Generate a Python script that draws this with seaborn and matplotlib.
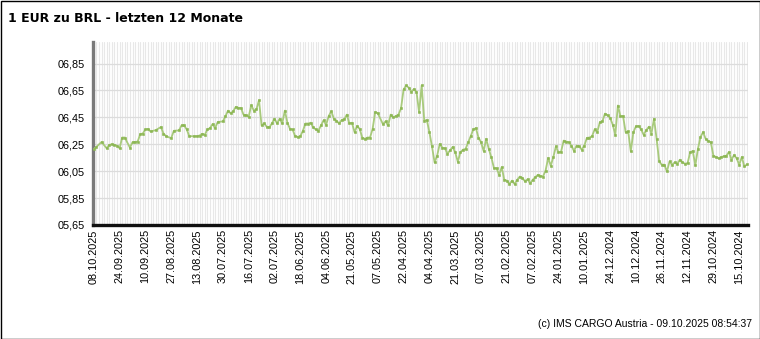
import matplotlib
matplotlib.use("Agg")
import matplotlib.pyplot as plt
import seaborn as sns
import pandas as pd
import numpy as np
from matplotlib.patches import Rectangle

# ---- data (business-day slot, 0 = 08.10.2025, going back in time) ----
slots = [0, 1, 3, 5, 6, 7, 8, 9, 10, 11, 12, 14, 15, 16, 17, 18, 19, 20, 21, 22,
         24, 26, 27, 28, 30, 31, 33, 34, 35, 36, 37, 39, 40, 41, 42, 43, 44, 45, 46, 47,
         48, 50, 51, 52, 53, 54, 55, 56, 57, 58, 59, 60, 61, 62, 63, 64, 65, 66, 67, 68,
         69, 70, 71, 72, 73, 74, 75, 76, 77, 78, 79, 80, 81, 82, 83, 84, 85, 86, 87, 88,
         89, 90, 91, 92, 93, 94, 95, 96, 97, 98, 99, 100, 101, 102, 103, 104, 105, 106, 107, 108,
         109, 110, 112, 113, 114, 115, 116, 117, 118, 119, 120, 121, 122, 123, 124, 125, 126, 127, 128, 129,
         130, 131, 132, 133, 134, 135, 136, 137, 138, 139, 140, 141, 142, 143, 144, 145, 146, 147, 148, 149,
         150, 151, 152, 153, 154, 155, 156, 157, 158, 159, 160, 161, 162, 163, 164, 165, 166, 167, 168, 169,
         170, 171, 172, 173, 174, 175, 176, 177, 178, 179, 180, 181, 182, 183, 184, 185, 186, 187, 188, 189,
         190, 191, 192, 193, 194, 195, 196, 197, 198, 199, 200, 201, 202, 203, 204, 205, 206, 207, 208, 209,
         210, 211, 212, 213, 214, 215, 216, 217, 218, 219, 220, 221, 222, 223, 224, 225, 226, 227, 228, 229,
         230, 231, 232, 233, 234, 235, 236, 237, 238, 239, 240, 241, 242, 243, 244, 245, 246, 247, 248, 249,
         250, 251, 252, 253]
rates = [6.215, 6.23, 6.267, 6.22, 6.245, 6.25, 6.245, 6.24, 6.22, 6.30, 6.30, 6.225, 6.265, 6.267, 6.27, 6.325, 6.33, 6.36, 6.364, 6.345,
         6.355, 6.378, 6.33, 6.31, 6.295, 6.35, 6.353, 6.39, 6.39, 6.36, 6.31, 6.31, 6.31, 6.315, 6.328, 6.32, 6.36, 6.37, 6.40, 6.37,
         6.415, 6.42, 6.458, 6.50, 6.48, 6.495, 6.528, 6.52, 6.52, 6.47, 6.465, 6.455, 6.54, 6.50, 6.51, 6.577, 6.39, 6.405, 6.38, 6.375,
         6.405, 6.44, 6.405, 6.44, 6.405, 6.50, 6.41, 6.364, 6.36, 6.31, 6.305, 6.31, 6.35, 6.404, 6.404, 6.41, 6.375, 6.36, 6.35, 6.39,
         6.428, 6.395, 6.46, 6.495, 6.44, 6.425, 6.405, 6.43, 6.435, 6.47, 6.405, 6.41, 6.34, 6.385, 6.364, 6.30, 6.29, 6.30, 6.30, 6.364,
         6.49, 6.48, 6.40, 6.42, 6.39, 6.47, 6.45, 6.46, 6.47, 6.516, 6.657, 6.687, 6.67, 6.64, 6.66, 6.64, 6.488, 6.687, 6.426, 6.43,
         6.34, 6.234, 6.115, 6.165, 6.252, 6.225, 6.22, 6.18, 6.205, 6.23, 6.19, 6.12, 6.19, 6.21, 6.215, 6.264, 6.31, 6.36, 6.37, 6.30,
         6.265, 6.20, 6.29, 6.215, 6.152, 6.073, 6.073, 6.023, 6.08, 5.986, 5.98, 5.954, 5.98, 5.954, 5.986, 6.01, 6.0, 5.975, 5.99, 5.96,
         5.986, 6.005, 6.023, 6.015, 6.01, 6.055, 6.148, 6.09, 6.155, 6.234, 6.19, 6.195, 6.277, 6.27, 6.265, 6.24, 6.20, 6.24, 6.235, 6.21,
         6.24, 6.297, 6.30, 6.31, 6.36, 6.34, 6.413, 6.42, 6.478, 6.465, 6.446, 6.396, 6.32, 6.538, 6.458, 6.46, 6.34, 6.345, 6.197, 6.34,
         6.383, 6.386, 6.36, 6.32, 6.355, 6.38, 6.33, 6.44, 6.29, 6.122, 6.098, 6.098, 6.048, 6.122, 6.098, 6.115, 6.104, 6.135, 6.115, 6.105,
         6.11, 6.19, 6.20, 6.093, 6.215, 6.304, 6.34, 6.29, 6.275, 6.265, 6.165, 6.155, 6.145, 6.155, 6.16, 6.165, 6.192, 6.135, 6.17, 6.145,
         6.098, 6.155, 6.085, 6.10]

tick_labels = ["08.10.2025", "24.09.2025", "10.09.2025", "27.08.2025", "13.08.2025", "30.07.2025",
               "16.07.2025", "02.07.2025", "18.06.2025", "04.06.2025", "21.05.2025", "07.05.2025",
               "22.04.2025", "04.04.2025", "21.03.2025", "07.03.2025", "21.02.2025", "07.02.2025",
               "24.01.2025", "10.01.2025", "24.12.2024", "10.12.2024", "26.11.2024", "12.11.2024",
               "29.10.2024", "15.10.2024"]
y_ticks = [5.65, 5.85, 6.05, 6.25, 6.45, 6.65, 6.85]

df = pd.DataFrame({"slot": slots, "rate": rates})

sns.set_style("white")
plt.rcParams["font.family"] = ["Liberation Sans", "DejaVu Sans"]
plt.rcParams["text.color"] = "black"
plt.rcParams["xtick.color"] = "black"
plt.rcParams["ytick.color"] = "black"

fig = plt.figure(figsize=(7.6, 3.39), dpi=100)
ax = fig.add_axes([93 / 760, 1 - 225 / 339, (748 - 93) / 760, (225 - 42) / 339])

# vertical grid at every business-day slot
ax.set_xticks(np.arange(0, 254, 1), minor=True)
ax.grid(True, which="minor", axis="x", color="#e8e8e8", linewidth=0.8)
ax.grid(True, which="major", axis="x", color="#e8e8e8", linewidth=0.8)
ax.grid(True, which="major", axis="y", color="#dcdcdc", linewidth=0.9)
ax.set_axisbelow(True)

sns.lineplot(data=df, x="slot", y="rate", ax=ax, color="#a8ca7c", linewidth=1.3,
             marker="s", markersize=1.9, markerfacecolor="#8bb652",
             markeredgecolor="#8bb652", markeredgewidth=0.4, zorder=3)

ax.set_xlim(-0.3, 253.4)
ax.set_ylim(5.65, 7.01)
ax.set_xticks(np.arange(0, 10 * len(tick_labels), 10))
ax.set_xticklabels(tick_labels, rotation=90, fontsize=7.8, color="black")
ax.set_yticks(y_ticks)
ax.set_yticklabels([f"{v:05.2f}".replace(".", ",") for v in y_ticks], fontsize=7.8, color="black")
ax.tick_params(axis="both", which="both", length=0)
ax.tick_params(axis="x", pad=3)
ax.tick_params(axis="y", pad=6)
ax.set_xlabel("")
ax.set_ylabel("")

for s in ["top", "right"]:
    ax.spines[s].set_visible(False)
ax.spines["left"].set_color("#7a7a7a")
ax.spines["left"].set_linewidth(2.4)
ax.spines["bottom"].set_color("#111111")
ax.spines["bottom"].set_linewidth(2.4)

fig.text(8 / 760, 1 - 18 / 339, "1 EUR zu BRL - letzten 12 Monate", fontsize=9,
         fontweight="bold", family=["DejaVu Sans"], color="black", va="center", ha="left")
fig.text(752 / 760, 1 - 324 / 339, "(c) IMS CARGO Austria - 09.10.2025 08:54:37",
         fontsize=7.5, color="black", va="center", ha="right")

fig.patches.append(Rectangle((0.5 / 760, 0.5 / 339), 1 - 1 / 760, 1 - 1 / 339,
                             transform=fig.transFigure, fill=False,
                             edgecolor="black", linewidth=1.0))

fig.savefig("out.png", dpi=100)
